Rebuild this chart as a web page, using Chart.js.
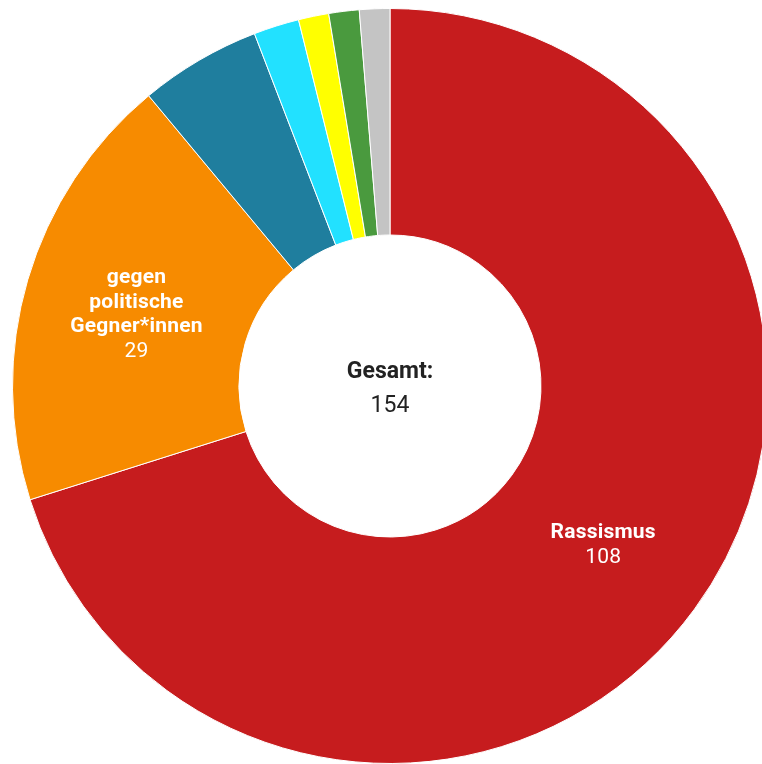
<!DOCTYPE html>
<html>
<head>
<meta charset="utf-8">
<script src="https://cdn.jsdelivr.net/npm/chart.js@4/dist/chart.umd.min.js"></script>
<style>
  html, body { margin: 0; padding: 0; background: #fff; overflow: hidden; width: 762px; height: 764px; }
  #wrap { position: absolute; left: 0; top: -4px; width: 780px; height: 780px; }
</style>
</head>
<body>
<div id="wrap"><canvas id="c" width="780" height="780"></canvas></div>
<script>
const categories = ["Rassismus", "gegen politische Gegner*innen", "Antisemitismus", "LGBTIQ*-Feindlichkeit", "Sozialdarwinismus", "Antiziganismus", "sonstige"];
const labelLines = [["Rassismus"], ["gegen", "politische", "Gegner*innen"], [], [], [], [], []];
const values = [108, 29, 8, 3, 2, 2, 2];
const colors = ["#C61C1E", "#F78B00", "#1F7E9E", "#22E1FF", "#FFFF00", "#4A9A3E", "#C4C4C4"];
const centerTitle = "Gesamt:";
const centerValue = "154";

const sliceLabels = {
  id: 'sliceLabels',
  afterDatasetsDraw(chart) {
    const ctx = chart.ctx;
    const meta = chart.getDatasetMeta(0);
    meta.data.forEach((arc, i) => {
      const lines = labelLines[i];
      if (!lines || !lines.length) return;
      const p = arc.tooltipPosition();
      const lh = 24.5;
      const all = lines.length + 1;
      let y = p.y + 3 - (all - 1) * lh / 2;
      ctx.save();
      ctx.fillStyle = '#fff';
      ctx.textAlign = 'center';
      ctx.textBaseline = 'middle';
      ctx.letterSpacing = '0.2px';
      lines.forEach(t => {
        ctx.font = 'bold 21px Roboto';
        ctx.fillText(t, p.x, y);
        y += lh;
      });
      ctx.font = '21px Roboto';
      ctx.fillText(String(values[i]), p.x, y);
      ctx.restore();
    });
  }
};

const centerText = {
  id: 'centerText',
  afterDraw(chart) {
    const ctx = chart.ctx;
    const a = chart.chartArea;
    const cx = (a.left + a.right) / 2, cy = (a.top + a.bottom) / 2;
    ctx.save();
    ctx.fillStyle = '#222';
    ctx.textAlign = 'center';
    ctx.textBaseline = 'middle';
    ctx.font = 'bold 23px Roboto';
    ctx.fillText(centerTitle, cx, cy - 14);
    ctx.font = '23px Roboto';
    ctx.fillText(centerValue, cx, cy + 20);
    ctx.restore();
  }
};

new Chart(document.getElementById('c'), {
  type: 'doughnut',
  data: {
    labels: categories,
    datasets: [{
      data: values,
      backgroundColor: colors,
      borderColor: '#fff',
      borderWidth: 1
    }]
  },
  options: {
    responsive: false,
    animation: false,
    cutout: '40%',
    layout: { padding: 12 },
    plugins: { legend: { display: false }, tooltip: { enabled: false } }
  },
  plugins: [sliceLabels, centerText]
});
</script>
</body>
</html>
